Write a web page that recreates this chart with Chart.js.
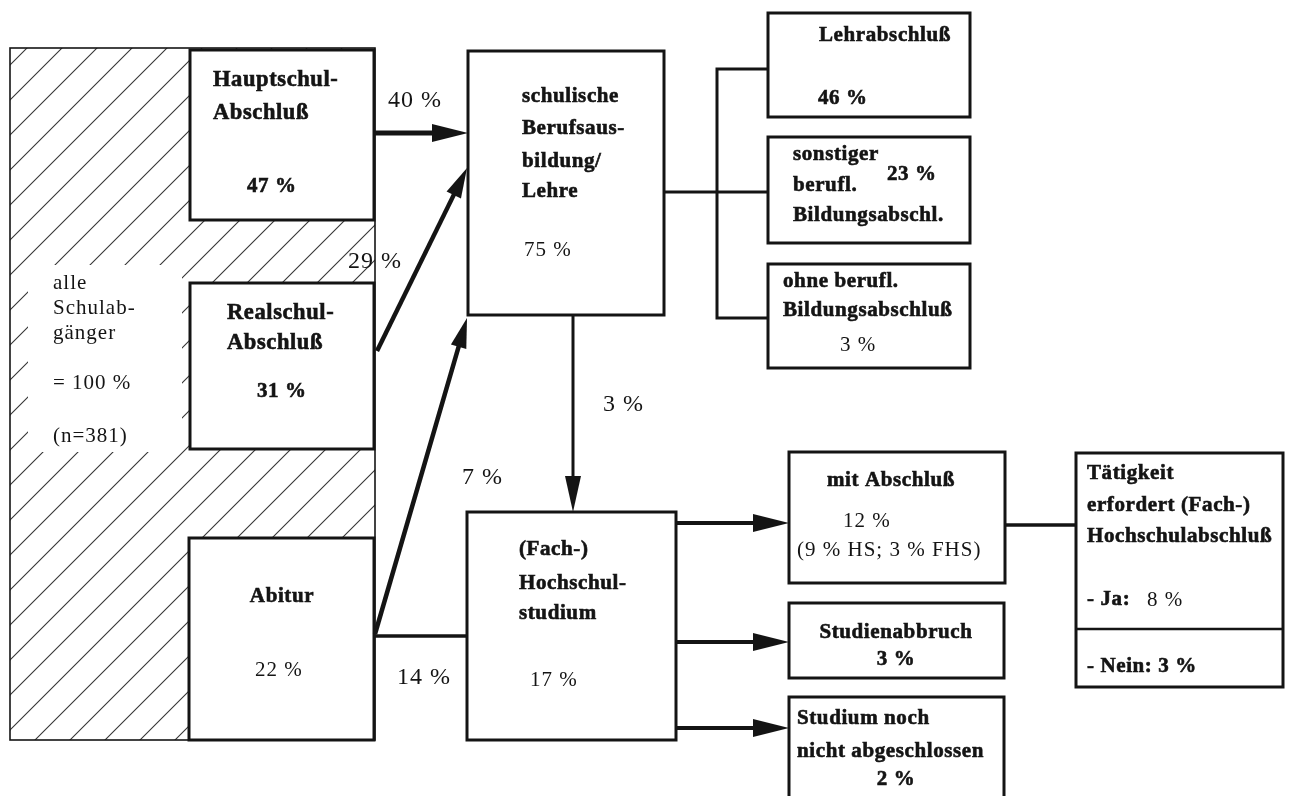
<!DOCTYPE html>
<html>
<head>
<meta charset="utf-8">
<script src="https://cdn.jsdelivr.net/npm/chart.js@4/dist/chart.umd.min.js"></script>
<style>
  html, body { margin: 0; background: #fff; }
  #wrap { width: 1289px; height: 796px; }
</style>
</head>
<body>
<div id="wrap"><canvas id="flow" width="1289" height="796"></canvas></div>
<script>
// --- Daten (Anteile in % aller Schulabgänger) ---
const schulabschluss = ['Hauptschul-\nAbschluß', 'Realschul-\nAbschluß', 'Abitur'];
const schulabschlussAnteil = [47, 31, 22];
const ausbildung = ['schulische\nBerufsaus-\nbildung/\nLehre', '(Fach-)\nHochschul-\nstudium'];
const ausbildungAnteil = [75, 17];
// HS->Lehre, RS->Lehre, Abi->Lehre, Abi->Studium, Lehre->Studium
const uebergangAnteil = [40, 29, 7, 14, 3];
const berufsabschluss = ['Lehrabschluß', 'sonstiger\nberufl.\nBildungsabschl.', 'ohne berufl.\nBildungsabschluß'];
const berufsabschlussAnteil = [46, 23, 3];
const studienausgang = ['mit Abschluß', 'Studienabbruch', 'Studium noch\nnicht abgeschlossen'];
const studienausgangAnteil = [12, 3, 2];
const hsFhsAnteil = [9, 3];
const taetigkeitFrage = 'Tätigkeit\nerfordert (Fach-)\nHochschulabschluß';
const taetigkeitAntwort = ['Ja', 'Nein'];
const taetigkeitAnteil = [8, 3];
const gesamt = 100;
const stichprobe = 381;

// --- Layout (in Skaleneinheiten) ---
const box = {
  haupt: [190, 50, 374, 220], real: [190, 283, 374, 449], abi: [189, 538, 374, 740],
  lehre: [468, 51, 664, 315], studium: [467, 512, 676, 740],
  lehrab: [768, 13, 970, 117], sonst: [768, 137, 970, 243], ohne: [768, 264, 970, 368],
  mit: [789, 452, 1005, 583], abbruch: [789, 603, 1004, 678], noch: [789, 697, 1004, 810],
  taet: [1076, 453, 1283, 687]
};
const outer = [10, 48, 375, 740];

const pct = v => v + ' %';
const split = s => s.split('\n');
const FB = 'bold 21px "Liberation Serif"', FBL = 'bold 22.5px "Liberation Serif"';
const FR = '21px "Liberation Serif"', FF = '24px "Liberation Serif"';

// text: [string, x, y, font, align]
const texts = [];
const put = (arr, x, ys, font, align) => arr.forEach((s, k) => texts.push([s, x, ys[k], font, align || 'left']));

put(['alle', 'Schulab-', 'gänger', '= ' + pct(gesamt), '(n=' + stichprobe + ')'], 53, [283, 308, 333, 383, 436], FR);
put(split(schulabschluss[0]), 213, [80, 113], FBL); put([pct(schulabschlussAnteil[0])], 247, [187], FB);
put(split(schulabschluss[1]), 227, [313, 343], FBL); put([pct(schulabschlussAnteil[1])], 257, [392], FB);
put(split(schulabschluss[2]), 282, [597], FB, 'center'); put([pct(schulabschlussAnteil[2])], 255, [670], FR);
put(split(ausbildung[0]), 522, [97, 129, 162, 192], FB); put([pct(ausbildungAnteil[0])], 524, [250], FR);
put(split(ausbildung[1]), 519, [550, 584, 614], FB); put([pct(ausbildungAnteil[1])], 530, [680], FR);
put([pct(uebergangAnteil[0])], 388, [101], FF);
put([pct(uebergangAnteil[1])], 348, [262], FF);
put([pct(uebergangAnteil[2])], 462, [478], FF);
put([pct(uebergangAnteil[3])], 397, [678], FF);
put([pct(uebergangAnteil[4])], 603, [405], FF);
put(split(berufsabschluss[0]), 819, [36], FB); put([pct(berufsabschlussAnteil[0])], 818, [99], FB);
put(split(berufsabschluss[1]), 793, [155, 186, 216], FB); put([pct(berufsabschlussAnteil[1])], 887, [175], FB);
put(split(berufsabschluss[2]), 783, [282, 311], FB); put([pct(berufsabschlussAnteil[2])], 840, [345], FR);
put(split(studienausgang[0]), 891, [481], FB, 'center');
put([pct(studienausgangAnteil[0])], 843, [521], FR);
put(['(' + pct(hsFhsAnteil[0]) + ' HS; ' + pct(hsFhsAnteil[1]) + ' FHS)'], 797, [550], FR);
put(split(studienausgang[1]), 896, [633], FB, 'center'); put([pct(studienausgangAnteil[1])], 896, [660], FB, 'center');
put(split(studienausgang[2]), 797, [719, 752], FB); put([pct(studienausgangAnteil[2])], 896, [780], FB, 'center');
put(split(taetigkeitFrage), 1087, [474, 506, 537], FB);
put(['- ' + taetigkeitAntwort[0] + ':'], 1087, [600], FB); put([pct(taetigkeitAnteil[0])], 1147, [600], FR);
put(['- ' + taetigkeitAntwort[1] + ': ' + pct(taetigkeitAnteil[1])], 1087, [667], FB);

const flowPlugin = {
  id: 'flow',
  afterDraw(chart) {
    const ctx = chart.ctx, sx = chart.scales.x, sy = chart.scales.y;
    const X = v => sx.getPixelForValue(v), Y = v => sy.getPixelForValue(v);
    const ink = '#141414';
    ctx.save();

    // schraffierte Fläche "alle Schulabgänger"
    ctx.save();
    ctx.beginPath();
    ctx.rect(X(outer[0]), Y(outer[1]), X(outer[2]) - X(outer[0]), Y(outer[3]) - Y(outer[1]));
    ctx.clip();
    ctx.strokeStyle = '#333'; ctx.lineWidth = 1.1;
    for (let c = 40; c < 1140; c += 35) {
      ctx.beginPath();
      ctx.moveTo(X(c - 760), Y(760));
      ctx.lineTo(X(c - 30), Y(30));
      ctx.stroke();
    }
    ctx.fillStyle = '#fff';
    ctx.fillRect(X(28), Y(265), X(182) - X(28), Y(452) - Y(265));
    ctx.restore();
    ctx.strokeStyle = ink; ctx.lineWidth = 1.6;
    ctx.strokeRect(X(outer[0]), Y(outer[1]), X(outer[2]) - X(outer[0]), Y(outer[3]) - Y(outer[1]));

    // Kästen
    Object.values(box).forEach(b => {
      const x = X(b[0]), y = Y(b[1]), w = X(b[2]) - x, h = Y(b[3]) - y;
      ctx.fillStyle = '#fff'; ctx.fillRect(x, y, w, h);
      ctx.strokeStyle = ink; ctx.lineWidth = 3; ctx.strokeRect(x, y, w, h);
    });
    const line = (pts, w) => {
      ctx.beginPath(); ctx.lineWidth = w; ctx.strokeStyle = ink; ctx.lineCap = 'butt';
      pts.forEach((p, i) => i ? ctx.lineTo(X(p[0]), Y(p[1])) : ctx.moveTo(X(p[0]), Y(p[1])));
      ctx.stroke();
    };
    // Trennlinie im Tätigkeits-Kasten
    line([[1076, 629], [1283, 629]], 2.5);

    const arrow = (x0, y0, x1, y1, w, len, half) => {
      const ax = X(x0), ay = Y(y0), bx = X(x1), by = Y(y1);
      const d = Math.hypot(bx - ax, by - ay), ux = (bx - ax) / d, uy = (by - ay) / d;
      const cx = bx - ux * len, cy = by - uy * len;
      ctx.beginPath(); ctx.lineWidth = w; ctx.strokeStyle = ink;
      ctx.moveTo(ax, ay); ctx.lineTo(cx + ux * 2, cy + uy * 2); ctx.stroke();
      ctx.beginPath(); ctx.fillStyle = ink;
      ctx.moveTo(bx, by);
      ctx.lineTo(cx - uy * half, cy + ux * half);
      ctx.lineTo(cx + uy * half, cy - ux * half);
      ctx.closePath(); ctx.fill();
    };
    arrow(375, 133, 468, 133, 5, 36, 9);
    arrow(377, 351, 467, 168, 4.5, 30, 8);
    arrow(375, 634, 467, 318, 4.5, 30, 8);
    line([[375, 636], [467, 636]], 3.5);
    arrow(573, 315, 573, 512, 3, 36, 8);
    arrow(676, 523, 789, 523, 4, 36, 9);
    arrow(676, 642, 789, 642, 4, 36, 9);
    arrow(676, 728, 789, 728, 4, 36, 9);
    line([[664, 192], [768, 192]], 3);
    line([[768, 69], [717, 69], [717, 318], [768, 318]], 3);
    line([[1005, 525], [1076, 525]], 3.5);

    // Beschriftung
    ctx.fillStyle = ink; ctx.strokeStyle = ink; ctx.textBaseline = 'middle';
    texts.forEach(([s, x, y, font, align]) => {
      const bold = font.startsWith('bold');
      ctx.font = font;
      ctx.letterSpacing = bold ? '0.6px' : '1px';
      ctx.textAlign = align;
      ctx.fillText(s, X(x), Y(y));
      if (bold) { ctx.lineWidth = 0.6; ctx.strokeText(s, X(x), Y(y)); }
    });
    ctx.restore();
  }
};

new Chart(document.getElementById('flow'), {
  type: 'scatter',
  data: { datasets: [{ data: [], pointRadius: 0 }] },
  options: {
    responsive: false,
    animation: false,
    layout: { padding: 0 },
    plugins: { legend: { display: false }, tooltip: { enabled: false } },
    scales: {
      x: { type: 'linear', min: 0, max: 1289, display: false },
      y: { type: 'linear', min: 0, max: 796, reverse: true, display: false }
    }
  },
  plugins: [flowPlugin]
});
</script>
</body>
</html>
